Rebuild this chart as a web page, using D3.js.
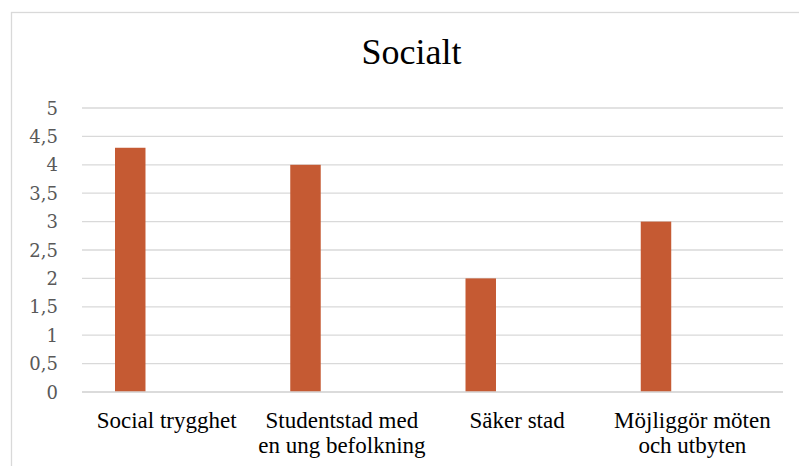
<!DOCTYPE html>
<html><head><meta charset="utf-8">
<script src="https://cdn.jsdelivr.net/npm/d3@7"></script>
<style>html,body{margin:0;padding:0;background:#fff;}svg{display:block;}
.serif{font-family:"Liberation Serif","Times New Roman",Times,"DejaVu Serif",serif;}
.yl{font-family:"DejaVu Serif","Liberation Serif",serif;}
</style>
</head><body>
<svg id="chart" width="799" height="466"></svg>
<script>
const title = "Socialt";
const categories = ["Social trygghet", "Studentstad med\nen ung befolkning", "Säker stad", "Möjliggör möten\noch utbyten"];
const series = ["Serie 1", "Serie 2"];
const serie1 = [4.3, 4, 2, 3];
const serie2 = [null, null, null, null];
const yTicks = [0, 0.5, 1, 1.5, 2, 2.5, 3, 3.5, 4, 4.5, 5];

const svg = d3.select("#chart");
const W = 799, H = 466;
const m = {left: 82, right: 783, top: 108, bottom: 392};

// chart border
svg.append("rect").attr("x", 11.5).attr("y", 12.5).attr("width", W).attr("height", H)
  .attr("fill", "#fff").attr("stroke", "#d9d9d9").attr("stroke-width", 1.3);

const x0 = d3.scaleBand().domain(categories).range([m.left, m.right]).paddingInner(0).paddingOuter(0);
const x1 = d3.scaleBand().domain(series).range([0, x0.bandwidth()]).paddingInner(0.613).paddingOuter(0.419);
const y = d3.scaleLinear().domain([0, 5]).range([m.bottom, m.top]);

// gridlines
svg.append("g").selectAll("line").data(yTicks).join("line")
  .attr("x1", m.left).attr("x2", m.right)
  .attr("y1", d => y(d)).attr("y2", d => y(d))
  .attr("stroke", "#d9d9d9").attr("stroke-width", 1.3);

// y labels
const fmt = d => String(d).replace(".", ",");
svg.append("g").selectAll("text").data(yTicks).join("text")
  .attr("class", "yl")
  .attr("x", 58).attr("y", d => y(d) + 6.5)
  .attr("text-anchor", "end")
  .style("font-size", "18px")
  .attr("fill", "#595959").text(fmt);

// bars
const data = categories.map((c, i) => ({c, vals: [serie1[i], serie2[i]]}));
const g = svg.append("g");
data.forEach(d => {
  d.vals.forEach((v, j) => {
    if (v == null) return;
    g.append("rect")
      .attr("x", x0(d.c) + x1(series[j]))
      .attr("y", y(v))
      .attr("width", x1.bandwidth())
      .attr("height", y(0) - y(v))
      .attr("fill", "#c55a33");
  });
});

// axis line
svg.append("line").attr("x1", m.left).attr("x2", m.right).attr("y1", y(0)).attr("y2", y(0))
  .attr("stroke", "#d9d9d9").attr("stroke-width", 1.3);

// x labels
const xl = svg.append("g");
categories.forEach(c => {
  const cx = x0(c) + x0.bandwidth() / 2 - 3;
  const t = xl.append("text")
    .attr("class", "serif")
    .attr("x", cx)
    .attr("y", 428)
    .attr("text-anchor", "middle")
    .style("font-size", "23px").attr("fill", "#000");
  c.split("\n").forEach((ln, k) => {
    t.append("tspan").attr("x", cx).attr("dy", k === 0 ? 0 : 25).text(ln);
  });
});

// title
svg.append("text").attr("class", "serif").attr("x", 411.5).attr("y", 64)
  .attr("text-anchor", "middle")
  .style("font-size", "36px").attr("fill", "#000").text(title);
</script>
</body></html>
